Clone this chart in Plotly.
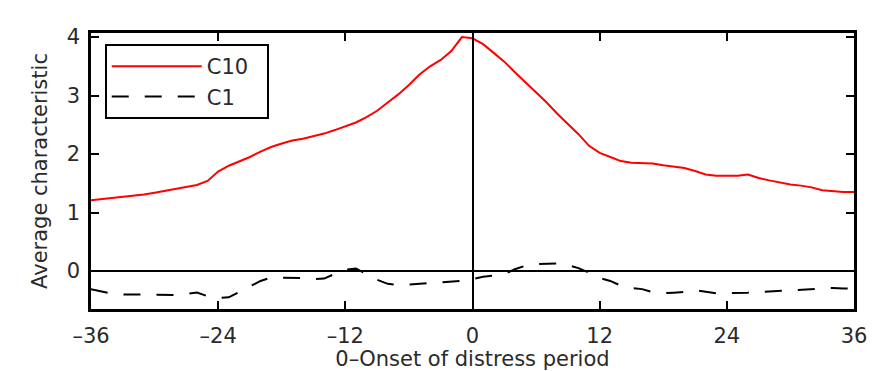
import plotly.graph_objects as go

# Months relative to the onset of the distress period
months = list(range(-36, 37))

# Average characteristic, top decile (C10)
c10 = [1.21, 1.23, 1.25, 1.26, 1.28, 1.31, 1.34, 1.37, 1.40, 1.43, 1.47, 1.54,
       1.70, 1.80, 1.87, 1.95, 2.04, 2.12, 2.18, 2.23, 2.26, 2.30, 2.35, 2.41,
       2.47, 2.54, 2.63, 2.74, 2.88, 3.02, 3.18, 3.36, 3.50, 3.61, 3.76, 4.00,
       3.98, 3.88, 3.73, 3.58, 3.40, 3.23, 3.06, 2.88, 2.69, 2.51, 2.34, 2.14,
       2.02, 1.95, 1.88, 1.85, 1.84, 1.84, 1.81, 1.78, 1.76, 1.71, 1.65, 1.63,
       1.63, 1.63, 1.65, 1.59, 1.55, 1.51, 1.48, 1.46, 1.43, 1.38, 1.36, 1.35,
       1.35]

# Average characteristic, bottom decile (C1)
c1 = [-0.31, -0.35, -0.39, -0.40, -0.40, -0.40, -0.40, -0.41, -0.41, -0.39, -0.37, -0.43,
      -0.46, -0.45, -0.36, -0.26, -0.17, -0.11, -0.11, -0.11, -0.12, -0.14, -0.13, -0.05,
      0.02, 0.04, -0.06, -0.15, -0.22, -0.24, -0.23, -0.22, -0.20, -0.19, -0.18, -0.17,
      -0.14, -0.10, -0.08, -0.05, 0.03, 0.09, 0.12, 0.13, 0.13, 0.10, 0.05, -0.03,
      -0.12, -0.17, -0.25, -0.29, -0.31, -0.36, -0.38, -0.37, -0.36, -0.33, -0.35, -0.38,
      -0.38, -0.38, -0.37, -0.36, -0.35, -0.33, -0.32, -0.32, -0.31, -0.29, -0.29, -0.30,
      -0.30]

series_names = ["C10", "C1"]
x_ticks = [-36, -24, -12, 0, 12, 24, 36]
x_tick_text = ["\u201336", "\u201324", "\u201312", "0", "12", "24", "36"]
y_ticks = [0, 1, 2, 3, 4]

FONT = "DejaVu Sans"
TEXT = "#2a2a2a"
SIZE = 21
PAD = "\u00a0\u00a0"  # extra room on the right side of the legend box

fig = go.Figure()
fig.add_trace(go.Scatter(x=months, y=c10, mode="lines", name=series_names[0] + PAD,
                         line=dict(color="#ff0000", width=2)))
fig.add_trace(go.Scatter(x=months, y=c1, mode="lines", name=series_names[1],
                         line=dict(color="black", width=2, dash="17px,16px")))

axis_common = dict(
    showline=True, linecolor="black", linewidth=2.5, mirror="allticks",
    ticks="inside", ticklen=8, tickwidth=2, tickcolor="black",
    showgrid=False, zeroline=True, zerolinecolor="black", zerolinewidth=2,
    tickfont=dict(family=FONT, size=SIZE, color=TEXT),
    automargin=False,
)

fig.update_xaxes(range=[-36, 36], tickvals=x_ticks, ticktext=x_tick_text,
                 title=dict(text="0\u2013Onset of distress period",
                            font=dict(family=FONT, size=SIZE, color=TEXT), standoff=4),
                 ticklabelstandoff=6, **axis_common)
fig.update_yaxes(range=[-0.65, 4.07], tickvals=y_ticks,
                 title=dict(text="Average characteristic",
                            font=dict(family=FONT, size=SIZE, color=TEXT), standoff=14),
                 ticklabelstandoff=4, **axis_common)

fig.update_layout(
    width=872, height=371,
    margin=dict(l=91, r=18, t=33, b=62),
    paper_bgcolor="white", plot_bgcolor="white",
    showlegend=True,
    legend=dict(x=0.018, y=0.96, xanchor="left", yanchor="top",
                bgcolor="white", bordercolor="black", borderwidth=2,
                font=dict(family=FONT, size=SIZE, color=TEXT),
                itemwidth=90, tracegroupgap=0),
)

fig.write_html("out.html")
